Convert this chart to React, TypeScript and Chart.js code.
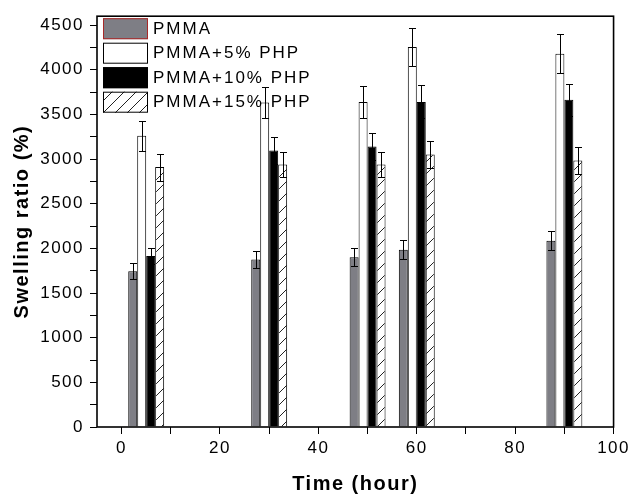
import React, { useEffect, useRef } from 'react';
import { Chart, registerables } from 'chart.js';

Chart.register(...registerables);

// ---- data ----
const times = [5, 30, 50, 60, 90];
const seriesLabels = ['PMMA', 'PMMA+5% PHP', 'PMMA+10% PHP', 'PMMA+15% PHP'];
const pmma = [1745, 1875, 1900, 1985, 2085];
const pmma5 = [3260, 3635, 3640, 4255, 4180];
const pmma10 = [1915, 3095, 3140, 3640, 3665];
const pmma15 = [2910, 2940, 2940, 3050, 2985];
const pmmaErr = [90, 100, 100, 105, 105];
const pmma5Err = [165, 175, 175, 210, 220];
const pmma10Err = [90, 155, 155, 185, 180];
const pmma15Err = [150, 140, 140, 155, 150];

const FONT = '"Liberation Sans", Arial, sans-serif';

function makeHatch(): CanvasPattern | string {
  const c = document.createElement('canvas');
  c.width = 12;
  c.height = 12;
  const g = c.getContext('2d');
  if (!g) return '#fff';
  g.fillStyle = '#fff';
  g.fillRect(0, 0, 12, 12);
  g.strokeStyle = '#222';
  g.lineWidth = 1;
  g.beginPath();
  g.moveTo(-1, 13);
  g.lineTo(13, -1);
  g.stroke();
  const p = g.createPattern(c, 'repeat');
  return p || '#fff';
}

const spacingPlugin = {
  id: 'letterSpacing',
  beforeUpdate(chart: any) {
    chart.ctx.letterSpacing = '1.5px';
  },
  beforeDraw(chart: any) {
    chart.ctx.letterSpacing = '1.5px';
  },
};

const framePlugin = {
  id: 'frame',
  afterDraw(chart: any) {
    const { ctx, chartArea } = chart;
    ctx.save();
    ctx.strokeStyle = '#000';
    ctx.lineWidth = 1.6;
    ctx.strokeRect(chartArea.left, chartArea.top, chartArea.right - chartArea.left, chartArea.bottom - chartArea.top);
    ctx.restore();
  },
};

const errorBarPlugin = {
  id: 'errorBars',
  afterDatasetsDraw(chart: any) {
    const { ctx } = chart;
    const yScale = chart.scales.y;
    ctx.save();
    ctx.strokeStyle = '#000';
    ctx.lineWidth = 1;
    chart.data.datasets.forEach((ds: any, i: number) => {
      const meta = chart.getDatasetMeta(i);
      meta.data.forEach((bar: any, j: number) => {
        const v = ds.data[j].y;
        const e = ds.errors[j];
        const x = Math.round(bar.x) + 0.5;
        const top = Math.round(yScale.getPixelForValue(v + e)) + 0.5;
        const bot = Math.round(yScale.getPixelForValue(v - e)) + 0.5;
        ctx.beginPath();
        ctx.moveTo(x, top);
        ctx.lineTo(x, bot);
        ctx.moveTo(x - 3.5, top);
        ctx.lineTo(x + 3.5, top);
        ctx.moveTo(x - 3.5, bot);
        ctx.lineTo(x + 3.5, bot);
        ctx.stroke();
      });
    });
    ctx.restore();
  },
};

const legendPlugin = {
  id: 'customLegend',
  afterDraw(chart: any) {
    const { ctx, chartArea } = chart;
    ctx.save();
    ctx.letterSpacing = '2px';
    chart.data.datasets.forEach((ds: any, i: number) => {
      const x = chartArea.left + 6;
      const y = chartArea.top + 2 + i * 24.5;
      ctx.fillStyle = ds.backgroundColor;
      ctx.fillRect(x, y, 45, 21);
      ctx.strokeStyle = i === 0 ? '#a82828' : '#000';
      ctx.lineWidth = 1;
      ctx.strokeRect(x + 0.5, y + 0.5, 44, 20);
      ctx.fillStyle = '#000';
      ctx.font = `17px ${FONT}`;
      ctx.textBaseline = 'middle';
      ctx.textAlign = 'left';
      ctx.fillText(ds.label, x + 50, y + 11);
    });
    ctx.restore();
  },
};

export default function App() {
  const ref = useRef<HTMLCanvasElement>(null);

  useEffect(() => {
    document.body.style.margin = '0';
    const canvas = ref.current;
    if (!canvas) return;
    const hatch = makeHatch();
    const values = [pmma, pmma5, pmma10, pmma15];
    const errs = [pmmaErr, pmma5Err, pmma10Err, pmma15Err];
    const fills: any[] = ['#7e7e85', '#ffffff', '#000000', hatch];

    const chart = new Chart(canvas, {
      type: 'bar',
      data: {
        datasets: seriesLabels.map((label, i) => ({
          label,
          data: times.map((t, j) => ({ x: t, y: values[i][j] })),
          errors: errs[i],
          backgroundColor: fills[i],
          borderColor: '#000',
          borderWidth: 1,
          categoryPercentage: 0.73,
          barPercentage: 1.0,
        })) as any,
      },
      options: {
        responsive: false,
        animation: false,
        layout: { padding: { top: 10, right: 20, left: 0, bottom: 0 } },
        plugins: {
          legend: { display: false },
          tooltip: { enabled: false },
        },
        scales: {
          x: {
            type: 'linear',
            min: -5,
            max: 100,
            offset: false,
            grid: {
              offset: false,
              drawOnChartArea: false,
              drawTicks: true,
              tickLength: 7,
              color: '#000',
              tickColor: '#000',
            },
            border: { display: false },
            ticks: {
              stepSize: 10,
              includeBounds: false,
              autoSkip: false,
              maxRotation: 0,
              color: '#000',
              padding: 4,
              font: { size: 17, family: FONT },
              callback: (v: any) => (Number(v) % 20 === 0 ? String(v) : ''),
            },
            title: {
              display: true,
              text: 'Time (hour)',
              color: '#000',
              font: { size: 20, weight: 'bold', family: FONT },
              padding: { top: 0, bottom: 0 },
            },
            afterFit: (s: any) => {
              s.height = 69;
            },
          } as any,
          y: {
            type: 'linear',
            min: 0,
            max: 4600,
            grid: {
              drawOnChartArea: false,
              drawTicks: true,
              tickLength: 7,
              color: '#000',
              tickColor: '#000',
            },
            border: { display: false },
            ticks: {
              stepSize: 250,
              includeBounds: false,
              autoSkip: false,
              color: '#000',
              padding: 6,
              font: { size: 17, family: FONT },
              callback: (v: any) => (Number(v) % 500 === 0 ? String(v) : ''),
            },
            title: {
              display: true,
              text: 'Swelling ratio (%)',
              color: '#000',
              font: { size: 20, weight: 'bold', family: FONT },
              padding: { top: 10, bottom: 0 },
            },
            afterFit: (s: any) => {
              s.width = 97;
            },
          } as any,
        },
      },
      plugins: [spacingPlugin, errorBarPlugin, framePlugin, legendPlugin],
    });
    return () => chart.destroy();
  }, []);

  return <canvas ref={ref} width={634} height={496} style={{ display: 'block' }} />;
}
